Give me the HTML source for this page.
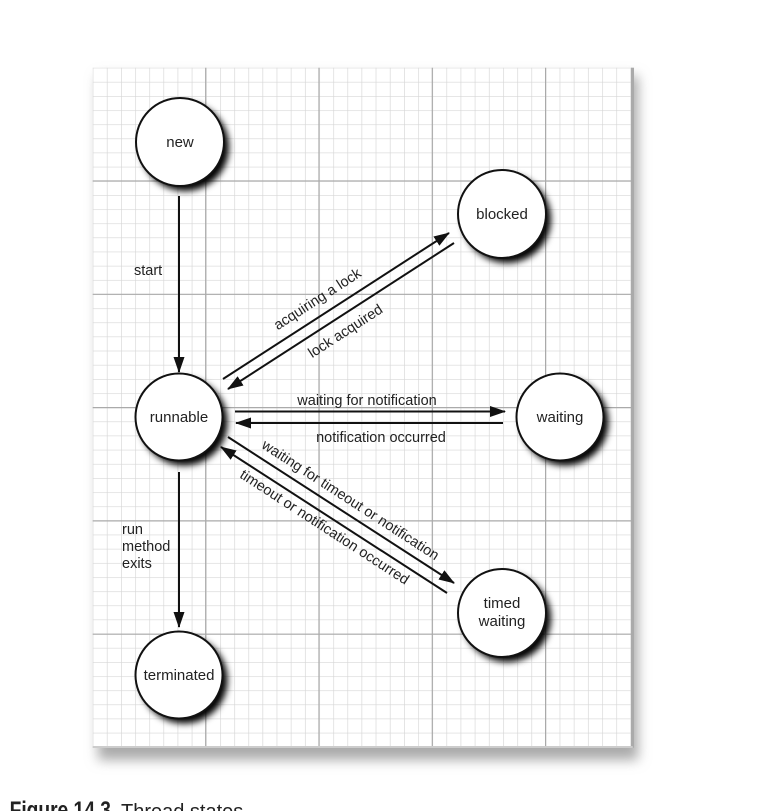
<!DOCTYPE html>
<html><head><meta charset="utf-8"><style>
html,body{margin:0;padding:0;background:#fff;}
svg{display:block;}
text{font-family:"Liberation Sans",sans-serif;fill:#222;}
</style></head><body>
<svg width="768" height="811" viewBox="0 0 768 811" xmlns="http://www.w3.org/2000/svg">
<defs>
<pattern id="minor" x="92.7" y="67.7" width="14.15" height="14.15" patternUnits="userSpaceOnUse">
<path d="M0 0H14.15M0 0V14.15" stroke="#d6d6d6" stroke-width="1.3" fill="none"/>
</pattern>
<filter id="psh" x="-10%" y="-10%" width="130%" height="130%"><feGaussianBlur stdDeviation="6"/></filter>
<filter id="csh" x="-30%" y="-30%" width="160%" height="160%"><feGaussianBlur stdDeviation="3.5"/></filter>
<marker id="ah" markerWidth="16" markerHeight="11" refX="15" refY="5.5" orient="auto" markerUnits="userSpaceOnUse">
<path d="M0 0L16 5.5L0 11Z" fill="#111"/>
</marker>
</defs>
<rect x="98" y="76" width="540" height="684" fill="#aaa" filter="url(#psh)"/>
<rect x="92.7" y="67.7" width="540" height="680" fill="#fff"/>
<rect x="92.7" y="67.7" width="540" height="680" fill="url(#minor)"/>
<g stroke="#aaa" stroke-width="1.2">
<line x1="205.7" y1="67.7" x2="205.7" y2="747.7"/>
<line x1="319" y1="67.7" x2="319" y2="747.7"/>
<line x1="432.3" y1="67.7" x2="432.3" y2="747.7"/>
<line x1="545.6" y1="67.7" x2="545.6" y2="747.7"/>
<line x1="92.7" y1="181" x2="632.7" y2="181"/>
<line x1="92.7" y1="294.3" x2="632.7" y2="294.3"/>
<line x1="92.7" y1="407.6" x2="632.7" y2="407.6"/>
<line x1="92.7" y1="520.9" x2="632.7" y2="520.9"/>
<line x1="92.7" y1="634.2" x2="632.7" y2="634.2"/>
</g>
<rect x="631" y="67.7" width="3" height="680" fill="#aaa"/>
<rect x="92.7" y="746" width="540" height="2" fill="#ccc"/>

<g stroke="#111" stroke-width="2" fill="none" marker-end="url(#ah)">
<line x1="179" y1="196" x2="179" y2="372"/>
<line x1="179" y1="472" x2="179" y2="627"/>
<line x1="223" y1="379" x2="449" y2="233"/>
<line x1="454" y1="243" x2="228" y2="389"/>
<line x1="235" y1="411.5" x2="505" y2="411.5"/>
<line x1="503" y1="423" x2="236" y2="423"/>
<line x1="228" y1="437" x2="454" y2="583"/>
<line x1="447" y1="593" x2="221" y2="447"/>
</g>

<g>
<circle cx="185" cy="147" r="44" fill="#000" filter="url(#csh)"/>
<circle cx="180" cy="142" r="44" fill="#fff" stroke="#111" stroke-width="2"/>
<circle cx="507" cy="219" r="44" fill="#000" filter="url(#csh)"/>
<circle cx="502" cy="214" r="44" fill="#fff" stroke="#111" stroke-width="2"/>
<circle cx="184" cy="422" r="43.5" fill="#000" filter="url(#csh)"/>
<circle cx="179" cy="417" r="43.5" fill="#fff" stroke="#111" stroke-width="2"/>
<circle cx="565" cy="422" r="43.5" fill="#000" filter="url(#csh)"/>
<circle cx="560" cy="417" r="43.5" fill="#fff" stroke="#111" stroke-width="2"/>
<circle cx="507" cy="618" r="44" fill="#000" filter="url(#csh)"/>
<circle cx="502" cy="613" r="44" fill="#fff" stroke="#111" stroke-width="2"/>
<circle cx="184" cy="680" r="43.5" fill="#000" filter="url(#csh)"/>
<circle cx="179" cy="675" r="43.5" fill="#fff" stroke="#111" stroke-width="2"/>
</g>

<g font-size="15" text-anchor="middle">
<text x="180" y="147">new</text>
<text x="502" y="219">blocked</text>
<text x="179" y="422">runnable</text>
<text x="560" y="422">waiting</text>
<text x="502" y="608">timed</text>
<text x="502" y="626">waiting</text>
<text x="179" y="680">terminated</text>
</g>

<g font-size="14.5">
<text x="134" y="275">start</text>
<text x="122" y="534">run</text>
<text x="122" y="551">method</text>
<text x="122" y="568">exits</text>
<text x="367" y="405" text-anchor="middle">waiting for notification</text>
<text x="381" y="442" text-anchor="middle">notification occurred</text>
<text text-anchor="middle" transform="translate(320,303) rotate(-33)">acquiring a lock</text>
<text text-anchor="middle" transform="translate(348,335) rotate(-33)">lock acquired</text>
<text text-anchor="middle" transform="translate(348,504) rotate(33)">waiting for timeout or notification</text>
<text text-anchor="middle" transform="translate(322,531) rotate(33)">timeout or notification occurred</text>
</g>

<text x="12" y="818" font-size="24" font-weight="bold" transform="scale(0.8,1)" style="font-family:'Liberation Sans Narrow','Liberation Sans',sans-serif">Figure 14.3</text>
<text x="121" y="818" font-size="20">Thread states</text>
</svg>
</body></html>
